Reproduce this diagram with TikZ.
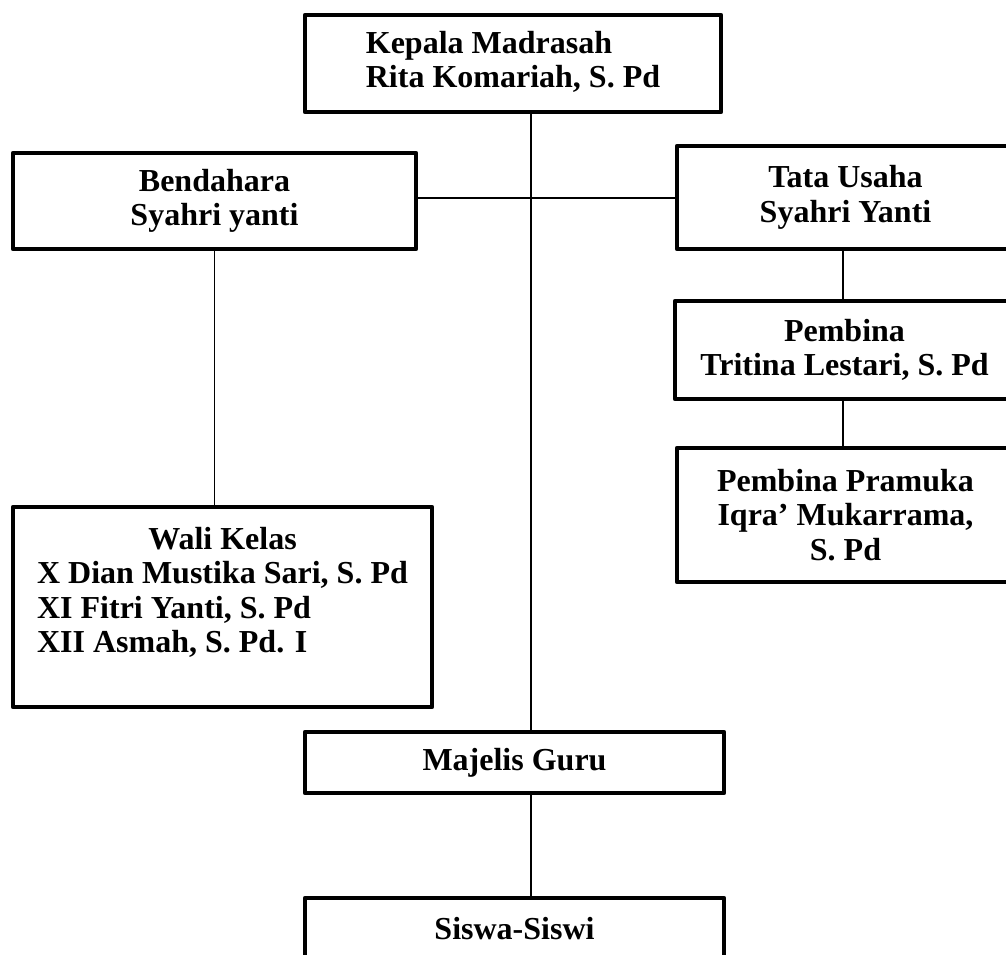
\documentclass[tikz,border=0pt]{standalone}
\usepackage{fontspec}
\setmainfont{Liberation Serif}
\begin{document}
\begin{tikzpicture}[x=1pt,y=-1pt,
  txt/.style={font=\fontsize{32}{34.5}\selectfont\bfseries, align=center, inner sep=0pt},
  box/.style={draw, line width=4.6pt, line join=round, inner sep=0pt, txt},
  conn/.style={line width=1.3pt}]
\useasboundingbox (0,0) rectangle (1006,954);
\clip (0,0) rectangle (1006,954);
\fill[white] (0,0) rectangle (1006,954);

\node[box, minimum width=416pt, minimum height=97pt] (kepala) at (513,63.5)
  {\begin{tabular}{@{}l@{}}Kepala Madrasah\\Rita Komariah, S. Pd\end{tabular}};
\node[box, minimum width=403pt, minimum height=96pt] (bend) at (214.5,201)
  {Bendahara\\Syahri yanti};
\node[box, minimum width=337pt, minimum height=103pt] (tata) at (845.5,197.5)
  {Tata Usaha\\Syahri Yanti};
\node[box, minimum width=339pt, minimum height=98pt] (pemb) at (844.5,350)
  {Pembina\\Tritina Lestari, S. Pd};
\node[box, minimum width=337pt, minimum height=134pt] (pram) at (845.5,515)
  {Pembina Pramuka\\Iqra’ Mukarrama,\\S. Pd};
\node[box, minimum width=419pt, minimum height=200pt,
  label={[txt, name=walitext, yshift=13pt]center:{\begin{tabular}{@{}l@{}}\multicolumn{1}{c}{Wali Kelas}\\X Dian Mustika Sari, S. Pd\\XI Fitri Yanti, S. Pd\\XII Asmah, S. Pd. I\end{tabular}}}]
  (wali) at (222.5,607) {};
\node[box, minimum width=419pt, minimum height=61pt] (majelis) at (514.5,762.5)
  {Majelis Guru};
\node[box, minimum width=419pt, minimum height=61pt] (siswa) at (514.5,928.5)
  {Siswa-Siswi};

\coordinate (spine) at (531,0);
\coordinate (hline) at (0,198);
\coordinate (rline) at (843,0);

\draw[conn] (kepala.south -| spine) -- (majelis.north -| spine);
\draw[conn] (bend.east |- hline) -- (tata.west |- hline);
\draw[conn] (bend.south) -- (bend.south |- wali.north);
\draw[conn] (tata.south -| rline) -- (pemb.north -| rline);
\draw[conn] (pemb.south -| rline) -- (pram.north -| rline);
\draw[conn] (majelis.south -| spine) -- (siswa.north -| spine);
\end{tikzpicture}
\end{document}
